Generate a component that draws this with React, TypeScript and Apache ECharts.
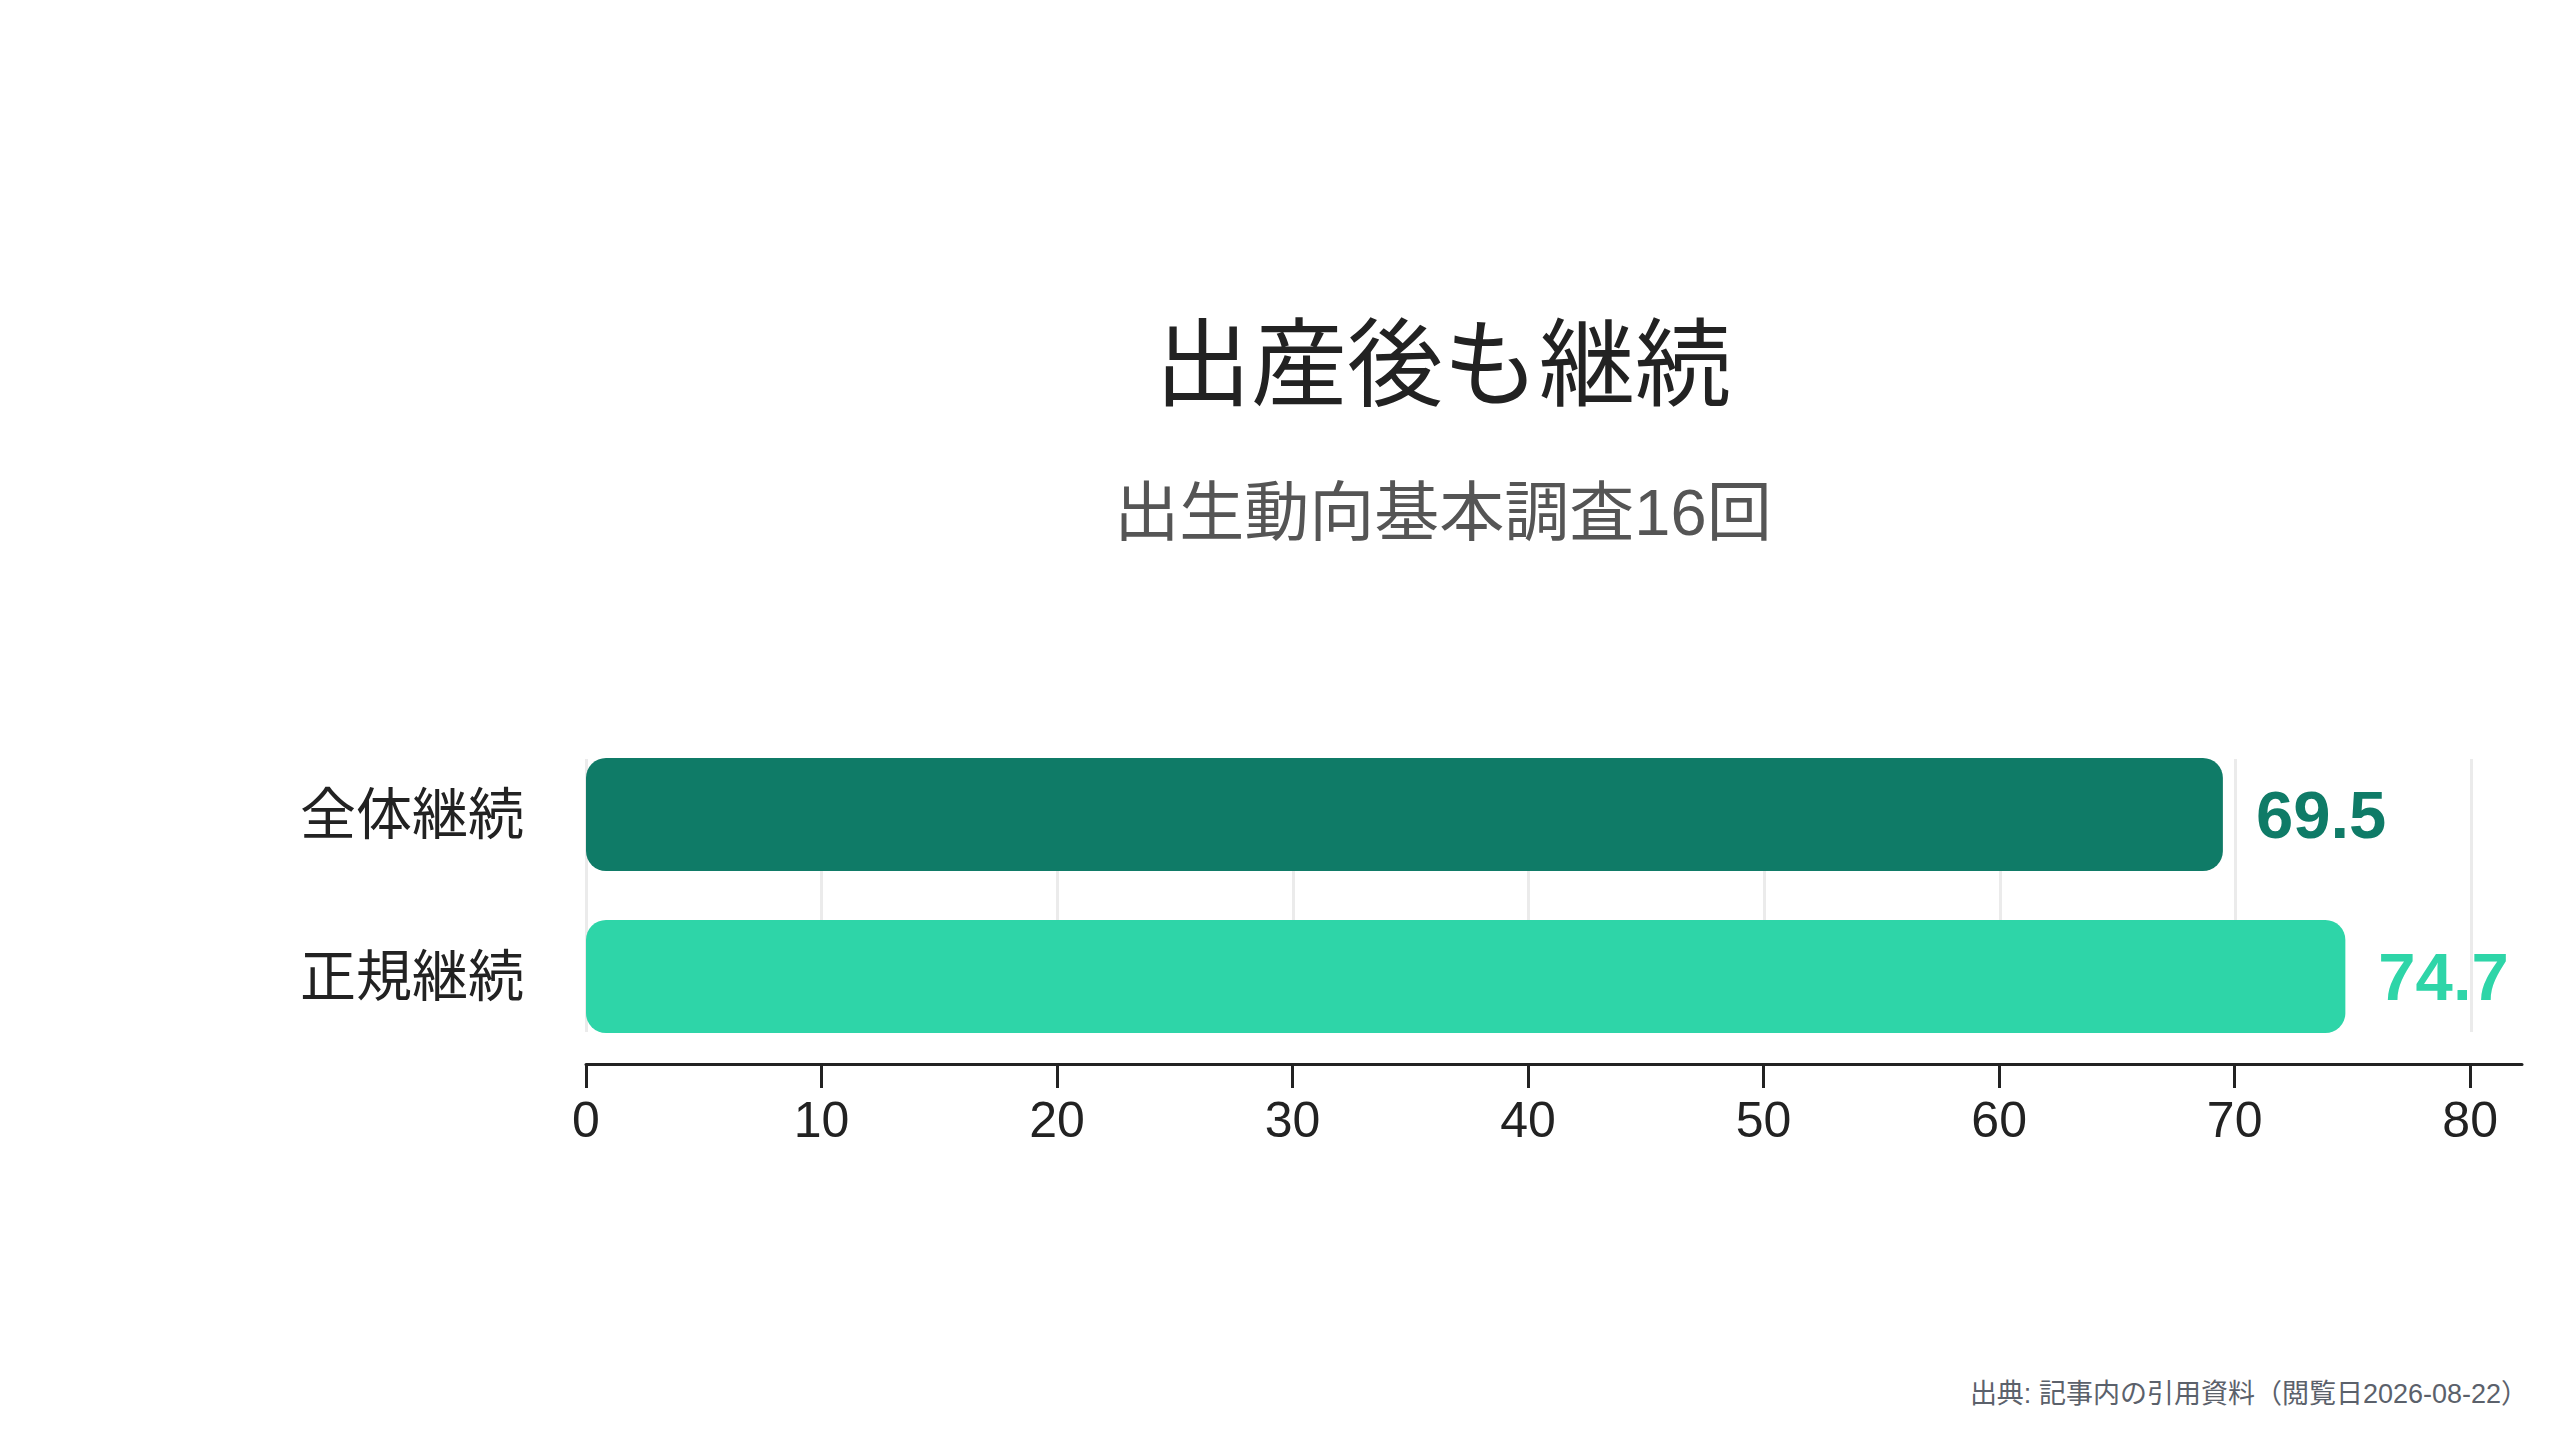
import React, { useEffect, useRef } from 'react';
import * as echarts from 'echarts';

// Chart data
const categories = ['全体継続', '正規継続'];
const values = [69.5, 74.7];
const xTicks = [0, 10, 20, 30, 40, 50, 60, 70, 80];
const xMax = 82.2;

const titleText = '出産後も継続';
const subtitleText = '出生動向基本調査16回';
const sourceText = '出典: 記事内の引用資料（閲覧日2026-08-22）';

// Styles
const barColors = ['#0f7b67', '#2ed5a8'];
const FONT = '"Liberation Sans", "Noto Sans CJK JP", sans-serif';
const CJK_FONT = '"Noto Sans CJK JP", "Liberation Sans", sans-serif';

const App: React.FC = () => {
  const chartRef = useRef<HTMLDivElement>(null);

  useEffect(() => {
    if (!chartRef.current) return;
    document.body.style.margin = '0';

    const chart = echarts.init(chartRef.current, undefined, { renderer: 'svg' });

    const option: any = {
      animation: false,
      backgroundColor: '#ffffff',
      grid: [
        // main grid: bars and x axis
        { left: 586, right: 38, top: 733.5, bottom: 382.5, outerBoundsMode: 'none' },
        // grid used only for the vertical guide lines
        { left: 586, right: 89, top: 759, bottom: 408, outerBoundsMode: 'none' },
      ],
      xAxis: [
        {
          gridIndex: 0,
          type: 'value',
          min: 0,
          max: xMax,
          position: 'bottom',
          offset: 6.5,
          axisLine: { show: true, lineStyle: { color: '#222222', width: 3 } },
          axisTick: {
            show: true,
            length: 24,
            customValues: xTicks,
            lineStyle: { color: '#222222', width: 3 },
          },
          axisLabel: {
            customValues: xTicks,
            margin: 31,
            fontSize: 50,
            color: '#222222',
            fontFamily: FONT,
          },
          splitLine: { show: false },
        },
        {
          gridIndex: 1,
          type: 'value',
          min: 0,
          max: 80,
          interval: 10,
          axisLine: { show: false },
          axisTick: { show: false },
          axisLabel: { show: false },
          splitLine: { show: true, lineStyle: { color: '#ebebeb', width: 3 } },
        },
      ],
      yAxis: [
        {
          gridIndex: 0,
          type: 'category',
          data: categories,
          inverse: true,
          axisLine: { show: false },
          axisTick: { show: false },
          splitLine: { show: false },
          axisLabel: {
            margin: 62,
            fontSize: 56,
            color: '#222222',
            fontFamily: CJK_FONT,
            // lift the labels a little above the bar centre, as in the original
            verticalAlign: 'bottom',
            lineHeight: 11,
          },
        },
        {
          gridIndex: 1,
          type: 'category',
          data: categories,
          show: false,
        },
      ],
      series: [
        {
          type: 'bar',
          xAxisIndex: 0,
          yAxisIndex: 0,
          barWidth: 113,
          data: values.map((v, i) => ({
            value: v,
            itemStyle: { color: barColors[i], borderRadius: 20 },
            label: { color: barColors[i] },
          })),
          label: {
            show: true,
            position: 'right',
            distance: 33,
            fontSize: 67,
            fontWeight: 'bold',
            fontFamily: FONT,
            formatter: '{c}',
          },
          z: 3,
        },
      ],
      graphic: [
        {
          type: 'text',
          x: 1443,
          y: 356,
          style: {
            text: titleText,
            align: 'center',
            verticalAlign: 'middle',
            fontSize: 96,
            fontFamily: CJK_FONT,
            fill: '#222222',
          },
        },
        {
          type: 'text',
          x: 1443,
          y: 512,
          style: {
            text: subtitleText,
            align: 'center',
            verticalAlign: 'middle',
            fontSize: 65,
            fontFamily: FONT,
            fill: '#555555',
          },
        },
        {
          type: 'text',
          x: 2528,
          y: 1394,
          style: {
            text: sourceText,
            align: 'right',
            verticalAlign: 'middle',
            fontSize: 27,
            fontFamily: FONT,
            fill: '#5b616b',
          },
        },
      ],
    };

    chart.setOption(option);

    return () => {
      chart.dispose();
    };
  }, []);

  return <div ref={chartRef} style={{ width: 2560, height: 1440 }} />;
};

export default App;
